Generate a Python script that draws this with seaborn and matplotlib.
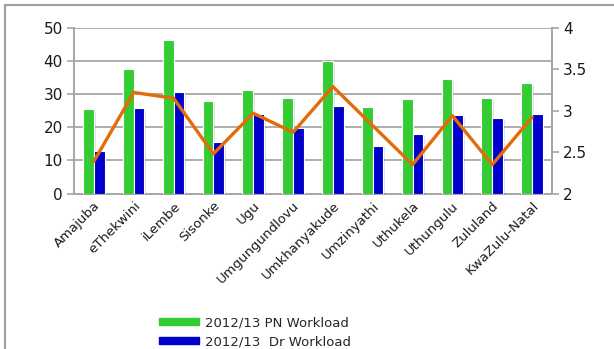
import numpy as np
import pandas as pd
import matplotlib
matplotlib.use("Agg")
import matplotlib.pyplot as plt
import matplotlib.patheffects as pe
from matplotlib.patches import Patch, Rectangle
import seaborn as sns

districts = ["Amajuba", "eThekwini", "iLembe", "Sisonke", "Ugu", "Umgungundlovu",
             "Umkhanyakude", "Umzinyathi", "Uthukela", "Uthungulu", "Zululand",
             "KwaZulu-Natal"]
pn_workload = [25.4, 37.6, 46.2, 28.0, 31.1, 28.9, 40.0, 26.0, 28.4, 34.5, 28.7, 33.3]
dr_workload = [12.8, 25.9, 30.5, 15.7, 24.0, 19.7, 26.5, 14.5, 17.9, 23.6, 22.7, 24.0]
ratio_line = [2.39, 3.22, 3.15, 2.48, 2.97, 2.74, 3.29, 2.82, 2.35, 2.94, 2.35, 2.92]
series_names = ["2012/13 PN Workload", "2012/13  Dr Workload"]

green = "#33CC33"
blue = "#0000CC"
orange = "#E36C0A"
axis_grey = "#A6A6A6"

sns.set_theme(style="white")
plt.rcParams["font.family"] = ["DejaVu Sans"]

df = pd.DataFrame({
    "district": districts * 2,
    "value": pn_workload + dr_workload,
    "series": [series_names[0]] * len(districts) + [series_names[1]] * len(districts),
})

fig = plt.figure(figsize=(6.14, 3.49), dpi=100)
ax = fig.add_axes([0.1205, 0.445, 0.899 - 0.1205, 0.9206 - 0.445])

sns.barplot(data=df, x="district", y="value", hue="series",
            palette=[green, blue], width=0.54, ax=ax, legend=False,
            edgecolor="white", linewidth=0.8, saturation=1)
for bar in ax.patches:
    bar.set_path_effects([pe.SimplePatchShadow(offset=(1.2, -1.2), shadow_rgbFace="#888888", alpha=0.25),
                          pe.Normal()])
    bar.set_zorder(3)

ax.set_xlim(-0.5, len(districts) - 0.5)
ax.set_ylim(0, 50)
ax.set_yticks(range(0, 51, 10))
ax.set_xlabel("")
ax.set_ylabel("")
ax.grid(axis="y", color="#A0A0A0", linewidth=1.2, zorder=0)
ax.set_axisbelow(True)

ax.set_xticks(np.arange(len(districts)))
ax.set_xticklabels(districts, rotation=45, ha="right", rotation_mode="anchor",
                   fontsize=9.5, color="#1a1a1a")
ax.tick_params(axis="x", length=0, pad=4)
ax.set_xticks(np.arange(-0.5, len(districts), 1), minor=True)
ax.tick_params(axis="x", which="minor", length=5, color=axis_grey, width=1.2, direction="out")
ax.tick_params(axis="y", length=5, color=axis_grey, width=1.2, labelsize=11, labelcolor="#1a1a1a", pad=3,
               left=True)

for side in ["top"]:
    ax.spines[side].set_visible(False)
for side in ["left", "right", "bottom"]:
    ax.spines[side].set_color(axis_grey)
    ax.spines[side].set_linewidth(1.4)

ax2 = ax.twinx()
sns.lineplot(x=np.arange(len(districts)), y=ratio_line, ax=ax2, color=orange, linewidth=2.4,
             zorder=5)
ax2.set_ylim(2, 4)
ax2.set_yticks([2, 2.5, 3, 3.5, 4])
ax2.set_yticklabels(["2", "2.5", "3", "3.5", "4"])
ax2.tick_params(axis="y", length=5, color=axis_grey, width=1.2, labelsize=11, labelcolor="#1a1a1a",
                pad=3, right=True)
ax2.grid(False)
for side in ["top", "left", "bottom"]:
    ax2.spines[side].set_visible(False)
ax2.spines["right"].set_color(axis_grey)
ax2.spines["right"].set_linewidth(1.4)

handles = [Patch(facecolor=green, edgecolor=green), Patch(facecolor=blue, edgecolor=blue)]
fig.legend(handles, series_names, loc="upper left", bbox_to_anchor=(150 / 614, 1 - 307 / 349),
           frameon=False, fontsize=9.5, handlelength=3.0, handleheight=0.45,
           handletextpad=0.45, labelspacing=0.45, borderpad=0.2)

fig.patches.append(Rectangle((5 / 614, -0.05), 1.1, 1 - 5 / 349 + 0.05, transform=fig.transFigure,
                             fill=False, edgecolor="#A0A0A0", linewidth=1.5))

fig.savefig("out.png", dpi=100)
